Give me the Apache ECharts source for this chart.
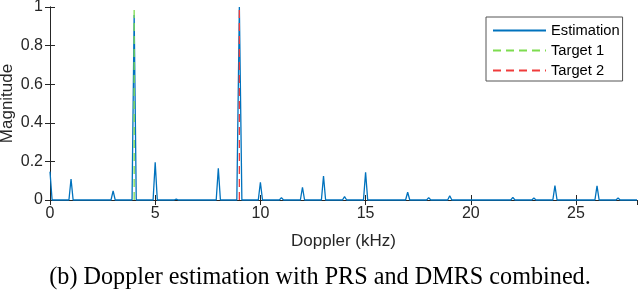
<!DOCTYPE html>
<html>
<head>
<meta charset="utf-8">
<script src="https://cdn.jsdelivr.net/npm/echarts@6/dist/echarts.min.js"></script>
<style>
html,body{margin:0;padding:0;background:#fff;}
#chart{width:640px;height:291px;}
</style>
</head>
<body>
<div id="chart"></div>
<script>
// Doppler axis (kHz) sample positions of the estimated spectrum
const dopplerKHz = [0, 0.1, 0.9, 1, 1.1, 2.9, 3, 3.1, 3.9, 4, 4.1, 4.9, 5, 5.1, 5.9, 6, 6.1,
  7.9, 8, 8.1, 8.88, 9, 9.12, 9.9, 10, 10.1, 10.9, 11, 11.1, 11.9, 12, 12.1, 12.9, 13, 13.1,
  13.9, 14, 14.1, 14.9, 15, 15.1, 16.9, 17, 17.1, 17.9, 18, 18.1, 18.9, 19, 19.1,
  21.9, 22, 22.1, 22.9, 23, 23.1, 23.9, 24, 24.1, 25.9, 26, 26.1, 26.9, 27, 27.1, 27.9];
// Estimated magnitude at those positions
const magnitude = [0.147, 0, 0, 0.109, 0, 0, 0.047, 0, 0, 0.958, 0, 0, 0.195, 0, 0, 0.005, 0,
  0, 0.164, 0, 0, 1.0, 0, 0, 0.092, 0, 0, 0.012, 0, 0, 0.066, 0, 0, 0.124, 0,
  0, 0.017, 0, 0, 0.143, 0, 0, 0.04, 0, 0, 0.012, 0, 0, 0.022, 0,
  0, 0.014, 0, 0, 0.01, 0, 0, 0.074, 0, 0, 0.073, 0, 0, 0.01, 0, 0];
// Targets: true Doppler positions and marker heights
const target1X = [4, 4];
const target1Y = [0, 1];
const target2X = [9, 9];
const target2Y = [0, 1];
const seriesNames = ['Estimation', 'Target 1', 'Target 2'];
const yTickLabels = ['0', '0.2', '0.4', '0.6', '0.8', '1'];
const xLabel = 'Doppler (kHz)';
const yLabel = 'Magnitude';
const caption = '(b) Doppler estimation with PRS and DMRS combined.';

const zip = (a, b) => a.map((v, i) => [v, b[i]]);
const axisColor = '#262626';
const sans = 'Liberation Sans';

const chart = echarts.init(document.getElementById('chart'), null, {renderer: 'canvas'});
chart.setOption({
  animation: false,
  backgroundColor: '#fff',
  title: {
    text: caption,
    left: 'center',
    top: 261,
    textStyle: {fontFamily: 'Liberation Serif', fontSize: 24.2, fontWeight: 'normal', color: '#000'}
  },
  grid: {left: 50, top: 7, right: 3, bottom: 91, containLabel: false, outerBoundsMode: 'none'},
  legend: {
    orient: 'vertical',
    left: 486,
    top: 17,
    padding: [6, 3, 3, 6],
    itemGap: 5,
    itemWidth: 53,
    itemHeight: 14,
    backgroundColor: '#fff',
    borderColor: '#555',
    borderWidth: 1,
    borderRadius: 0,
    data: seriesNames,
    itemStyle: {opacity: 0},
    textStyle: {fontFamily: sans, fontSize: 14.7, lineHeight: 14, color: '#000'}
  },
  xAxis: [{
    type: 'value', min: 0, max: 27.9, interval: 5,
    name: xLabel, nameLocation: 'middle', nameGap: 33,
    nameTextStyle: {fontFamily: sans, fontSize: 17, color: '#262626'},
    axisLine: {show: true, lineStyle: {color: axisColor, width: 1}},
    axisTick: {show: true, inside: true, length: 5, lineStyle: {color: axisColor}},
    axisLabel: {fontFamily: sans, fontSize: 16, color: '#262626', margin: 6, showMaxLabel: false},
    splitLine: {show: false}
  }, {
    type: 'value', min: 0, max: 27.9, interval: 5, position: 'top',
    axisLine: {show: true, lineStyle: {color: axisColor, width: 1}},
    axisTick: {show: true, inside: true, length: 5, lineStyle: {color: axisColor}},
    axisLabel: {show: false},
    splitLine: {show: false}
  }],
  yAxis: [{
    type: 'value', min: 0, max: 1, interval: 0.2,
    name: yLabel, nameLocation: 'middle', nameGap: 34, nameMoveOverlap: false,
    nameTextStyle: {fontFamily: sans, fontSize: 17, color: '#262626'},
    axisLine: {show: true, lineStyle: {color: axisColor, width: 1}},
    axisTick: {show: true, inside: true, length: 5, lineStyle: {color: axisColor}},
    axisLabel: {fontFamily: sans, fontSize: 16, color: '#262626', margin: 7,
      formatter: (v) => yTickLabels[Math.round(v / 0.2)]},
    splitLine: {show: false}
  }, {
    type: 'value', min: 0, max: 1, interval: 0.2, position: 'right',
    axisLine: {show: true, lineStyle: {color: axisColor, width: 1}},
    axisTick: {show: true, inside: true, length: 5, lineStyle: {color: axisColor}},
    axisLabel: {show: false},
    splitLine: {show: false}
  }],
  series: [{
    name: seriesNames[0], type: 'line', data: zip(dopplerKHz, magnitude),
    showSymbol: false, symbol: 'none', clip: false,
    lineStyle: {color: '#0072BD', width: 1.3}, itemStyle: {color: '#0072BD'}
  }, {
    name: seriesNames[1], type: 'line', data: zip(target1X, target1Y),
    showSymbol: false, symbol: 'none',
    lineStyle: {color: '#7ddc4f', width: 1.3, type: [8, 5]}, itemStyle: {color: '#7ddc4f'}
  }, {
    name: seriesNames[2], type: 'line', data: zip(target2X, target2Y),
    showSymbol: false, symbol: 'none',
    lineStyle: {color: '#f03c3c', width: 1.3, type: [8, 5]}, itemStyle: {color: '#f03c3c'}
  }]
});
</script>
</body>
</html>
